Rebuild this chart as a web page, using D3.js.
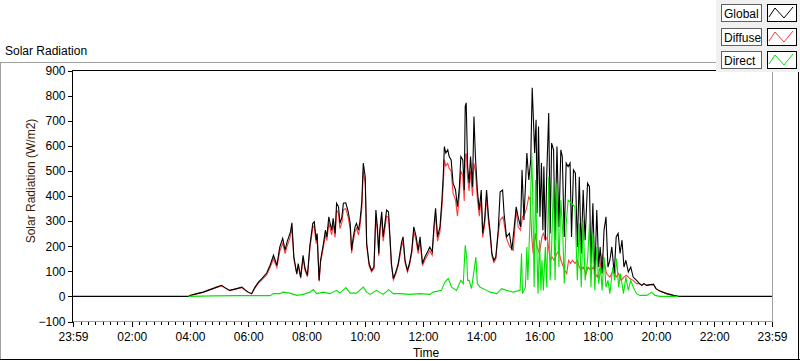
<!DOCTYPE html>
<html><head><meta charset="utf-8">
<script src="https://cdn.jsdelivr.net/npm/d3@7"></script>
<style>
html,body{margin:0;padding:0;background:#fff;}
svg{display:block;font-family:"Liberation Sans",Arial,sans-serif;}
</style></head><body>
<svg id="c" width="800" height="361"></svg>
<script>
// ---- data (minutes since midnight; -1 = 23:59 of previous day) ----
const globalMinutes = [-1,237,240,254,267,281,295,305,312,322,
336,347,353,360,367,374,381,388,398,405,
412,419,425,431,436,440,447,450,454,460,
463,468,473,477,482,487,493,496,500,502,
506,509,515,519,522,526,528,532,535,539,
542,546,549,553,556,561,566,570,573,576,
580,583,587,590,594,597,601,604,609,614,
619,623,626,629,631,635,638,645,649,652,
655,659,664,669,676,679,683,688,692,697,
701,706,710,714,719,724,731,734,739,743,
746,750,755,759,762,764,767,771,774,778,
782,787,791,795,798,802,805,807,809,812,
815,818,822,825,828,832,836,840,843,847,
851,855,858,862,866,870,875,879,884,887,
892,898,903,908,912,916,921,924,928,934,
938,942,945,947,950,953,955,958,961,964,
967,969,972,975,979,982,985,989,992,996,
1000,1004,1007,1011,1015,1019,1023,1026,1030,1034,
1038,1042,1046,1050,1054,1059,1063,1066,1070,1074,
1078,1082,1085,1089,1093,1097,1101,1105,1109,1114,
1118,1122,1126,1130,1134,1138,1143,1148,1153,1160,
1166,1171,1175,1181,1188,1195,1200,1208,1222,1236,
1246,1439];
const globalValues = [0,0,4,11,17,27,37,44,35,24,
31,37,27,17,11,37,57,71,93,124,
164,124,197,231,184,217,257,293,157,91,
131,77,164,111,84,204,291,297,224,251,
64,144,211,264,237,317,297,264,311,251,
371,357,291,317,371,373,337,291,184,231,
277,291,264,297,377,531,477,211,131,104,
117,344,277,171,264,337,237,344,337,237,
131,71,97,131,217,237,144,104,131,184,
277,237,184,237,131,157,184,197,177,291,
351,237,277,384,491,597,571,584,557,544,
451,424,357,437,557,544,424,757,771,517,
451,557,437,717,557,424,344,424,251,304,
424,317,264,171,144,157,264,417,424,331,
237,251,184,277,357,317,277,504,304,571,
464,544,831,731,571,704,331,677,317,531,
264,517,224,491,731,251,611,584,224,597,
277,584,557,237,531,517,531,237,504,491,
197,477,171,424,224,451,437,131,371,77,
344,117,197,91,264,317,117,144,197,91,
237,251,171,224,117,144,97,117,77,64,
51,44,51,44,47,48,31,21,11,4,
0,0];

const diffuseMinutes = [237,240,254,267,281,295,305,312,322,336,
347,353,360,367,374,381,388,398,405,412,
419,425,431,436,440,447,450,454,460,463,
468,473,477,482,487,493,496,500,502,506,
509,515,519,522,526,528,532,535,539,542,
546,549,553,556,561,566,570,573,576,580,
583,587,590,594,597,601,604,609,614,619,
623,626,629,631,635,638,645,649,652,655,
659,664,669,676,679,683,688,692,697,701,
706,710,714,719,724,731,734,739,743,746,
750,755,759,762,764,767,771,774,778,782,
787,791,795,798,802,805,807,809,812,815,
818,822,825,828,832,836,840,843,847,851,
855,858,862,866,870,875,879,885,892,899,
906,912,916,921,925,930,934,938,941,944,
947,952,955,960,965,968,972,976,982,986,
990,996,1000,1004,1008,1012,1016,1020,1024,1028,
1033,1038,1042,1046,1050,1056,1060,1066,1071,1075,
1079,1085,1089,1093,1098,1105,1112,1118,1123,1128,
1134,1139,1146,1153,1160,1166,1171,1175,1181,1188,
1195,1200,1208,1222,1236,1246];
const diffuseValues = [0,4,10,16,26,36,42,34,23,30,
35,26,16,10,34,53,66,86,115,150,
115,180,212,170,200,240,272,148,88,122,
72,150,104,78,190,275,280,210,235,60,
135,198,245,222,292,275,245,290,235,345,
330,270,295,345,350,315,270,172,215,258,
272,245,275,350,500,450,200,122,98,110,
320,258,160,245,315,220,320,315,222,122,
66,90,122,200,220,134,97,122,172,258,
220,170,220,122,146,170,182,164,270,325,
220,258,355,450,545,520,530,510,500,410,
385,320,400,500,480,380,560,570,470,420,
500,400,530,500,390,320,390,235,285,395,
295,248,160,135,148,250,304,317,230,197,
184,344,277,264,317,330,357,397,384,237,
171,251,197,171,237,251,224,237,144,157,
144,171,184,144,124,104,91,144,131,144,
131,144,117,104,117,91,117,104,117,91,
77,117,164,144,91,77,104,77,91,64,
77,84,71,64,51,51,44,51,44,47,
48,31,21,11,4,0];

const directMinutes = [237,288,336,405,412,425,432,446,460,473,
487,494,501,515,528,542,549,561,570,583,
597,604,611,624,638,649,659,672,693,714,
734,741,758,765,772,779,789,798,803,807,
810,812,815,820,829,832,837,851,858,872,
882,892,906,920,923,925,931,934,936,941,
944,946,949,952,955,957,960,963,965,968,
972,975,979,982,985,989,992,996,1000,1004,
1008,1011,1015,1019,1033,1038,1042,1046,1050,1054,
1059,1063,1066,1070,1074,1078,1082,1086,1089,1093,
1097,1101,1105,1111,1115,1119,1123,1127,1133,1138,
1143,1148,1153,1160,1167,1181,1191,1198,1208,1246];
const directValues = [0,2,3,3,11,11,17,13,4,8,
17,27,11,17,11,24,13,35,13,13,
37,17,8,24,8,27,11,11,8,11,
8,17,24,57,71,37,24,64,51,204,
157,64,64,31,157,51,37,24,17,11,
31,24,17,24,171,11,37,197,64,331,
571,411,37,464,157,11,224,24,144,24,
197,37,477,64,197,464,64,451,117,384,
251,51,291,384,357,64,291,37,304,64,
144,291,37,251,24,197,51,117,24,157,
37,64,11,117,64,151,37,91,11,77,
24,64,37,11,4,4,17,4,0,0];

const xTickMinutes = [-1,120,240,360,480,600,720,840,960,1080,1200,1320,1439];
const xTickLabels = ["23:59","02:00","04:00","06:00","08:00","10:00","12:00","14:00","16:00","18:00","20:00","22:00","23:59"];
const yTickValues = [-100,0,100,200,300,400,500,600,700,800,900];
const seriesNames = ["Global","Diffuse","Direct"];
const seriesColors = ["#000000","#ff3a3a","#00e400"];
const chartTitle = "Solar Radiation";
const yAxisTitle = "Solar Radiation (W/m2)";
const xAxisTitle = "Time";

// ---- drawing ----
const svg = d3.select("#c");
const L = 73, R = 772, T = 70.5, B = 321.5;
const x = d3.scaleLinear().domain([-1, 1439]).range([L, R]);
const y = d3.scaleLinear().domain([-100, 900]).range([B, T]);

// outer panel frame
svg.append("line").attr("x1",0).attr("x2",716).attr("y1",62.5).attr("y2",62.5).attr("stroke","#a0a0a0");
svg.append("line").attr("x1",0.5).attr("x2",0.5).attr("y1",62).attr("y2",360).attr("stroke","#a0a0a0");
svg.append("line").attr("x1",0).attr("x2",800).attr("y1",359.5).attr("y2",359.5).attr("stroke","#000");
svg.append("line").attr("x1",798.5).attr("x2",798.5).attr("y1",72).attr("y2",360).attr("stroke","#000");

svg.append("text").attr("x",5).attr("y",55).attr("font-size",12).attr("fill","#000").text(chartTitle);

// clip
svg.append("clipPath").attr("id","pc").append("rect").attr("x",L).attr("y",T).attr("width",R-L).attr("height",B-T);

// series (drawn diffuse, global, direct so black overlays red where they coincide)
const seriesData = [
  globalMinutes.map((m,i)=>[m, globalValues[i]]),
  diffuseMinutes.map((m,i)=>[m, diffuseValues[i]]),
  directMinutes.map((m,i)=>[m, directValues[i]])
];
const line = d3.line().x(d=>x(d[0])).y(d=>y(d[1]));
const g = svg.append("g").attr("clip-path","url(#pc)");
[1,0,2].forEach(i=>{
  g.append("path").attr("d", line(seriesData[i])).attr("fill","none")
   .attr("stroke", seriesColors[i]).attr("stroke-width",1.1).attr("stroke-linejoin","miter");
});

// plot border
svg.append("line").attr("x1",L-0.5).attr("x2",R).attr("y1",70.5).attr("y2",70.5).attr("stroke","#000");
svg.append("line").attr("x1",72.5).attr("x2",72.5).attr("y1",70).attr("y2",322).attr("stroke","#000");
svg.append("line").attr("x1",772.5).attr("x2",772.5).attr("y1",72).attr("y2",322).attr("stroke","#a0a0a0");
svg.append("line").attr("x1",73).attr("x2",773).attr("y1",321.5).attr("y2",321.5).attr("stroke","#a0a0a0");

// y axis
const yAxis = d3.axisLeft(y).tickValues(yTickValues).tickSize(5).tickPadding(2).tickFormat(d3.format("d"));
const ya = svg.append("g").attr("transform","translate(72.5,0)").call(yAxis);
ya.select(".domain").remove();
ya.selectAll("text").attr("font-size",12).attr("font-family","Liberation Sans, Arial, sans-serif").attr("fill","#000");
ya.selectAll("line").attr("stroke","#000").attr("shape-rendering","crispEdges");

// x axis minor
const minorTicks = d3.range(0, 1440, 15).filter(m => !xTickMinutes.includes(m));
const xMinor = d3.axisBottom(x).tickValues(minorTicks).tickSize(3).tickFormat("");
const xm = svg.append("g").attr("transform","translate(0,322)").call(xMinor);
xm.select(".domain").remove();
xm.selectAll("line").attr("stroke","#000").attr("shape-rendering","crispEdges");

// x axis major
const xAxis = d3.axisBottom(x).tickValues(xTickMinutes).tickSize(5).tickPadding(5)
  .tickFormat((d,i)=>xTickLabels[i]);
const xa = svg.append("g").attr("transform","translate(0,322)").call(xAxis);
xa.select(".domain").remove();
xa.selectAll("text").attr("font-size",12).attr("font-family","Liberation Sans, Arial, sans-serif").attr("fill","#000");
xa.selectAll("line").attr("stroke","#000").attr("shape-rendering","crispEdges");

// axis titles
svg.append("text").attr("transform","translate(35,181) rotate(-90)").attr("text-anchor","middle")
  .attr("font-size",12).attr("fill","#3a1c00").text(yAxisTitle);
svg.append("text").attr("x",426).attr("y",357).attr("text-anchor","middle")
  .attr("font-size",12).attr("fill","#000").text(xAxisTitle);

// legend
svg.append("rect").attr("x",716).attr("y",0).attr("width",84).attr("height",72).attr("fill","#f0f0f0");
seriesNames.forEach((n,i)=>{
  const top = 4 + i*23.5;
  const row = svg.append("g").attr("transform",`translate(0,${Math.round(top)})`);
  row.append("rect").attr("x",721.5).attr("y",0.5).attr("width",40).attr("height",17)
     .attr("fill","#fff").attr("stroke","#606060");
  row.append("text").attr("x",724).attr("y",13.5).attr("font-size",12).attr("fill","#000").text(n);
  row.append("rect").attr("x",767.5).attr("y",0.5).attr("width",29).attr("height",17)
     .attr("fill","#fff").attr("stroke","#000");
  row.append("path").attr("d","M769,13 L775,4 L784,14 L793,3").attr("fill","none")
     .attr("stroke",seriesColors[i]).attr("stroke-width",1);
});
</script>
</body></html>
